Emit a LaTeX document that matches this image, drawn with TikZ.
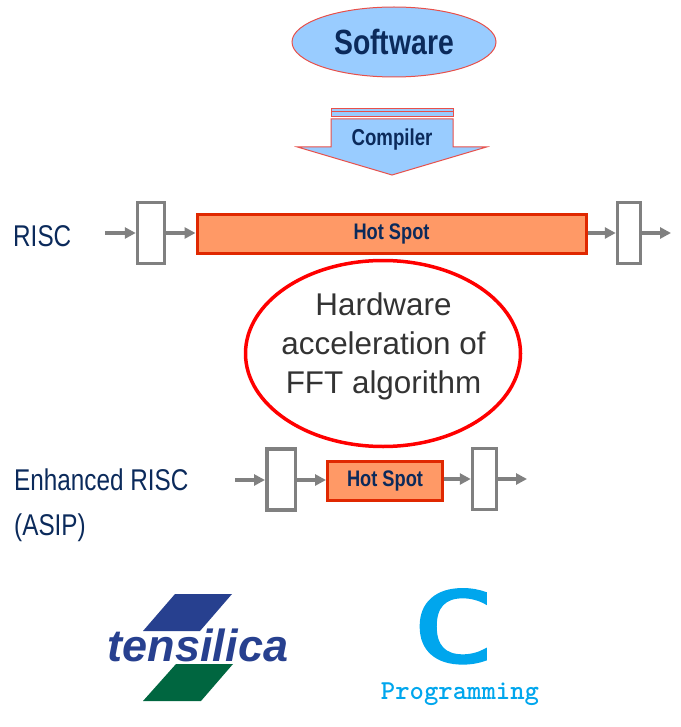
\documentclass[tikz,border=0pt]{standalone}
\usepackage{fontspec}
\usetikzlibrary{shapes.geometric,arrows.meta}
\setmainfont{Liberation Sans}
\newfontfamily\narrowfont[FakeStretch=0.81]{Liberation Sans}
\newfontfamily\bigcfont[FakeStretch=1.45,FakeBold=2.5]{DejaVu Sans Mono}
\definecolor{navy}{HTML}{0B2A5B}
\definecolor{skyfill}{HTML}{99CCFF}
\definecolor{hotfill}{HTML}{FF9966}
\definecolor{hotline}{HTML}{E02800}
\definecolor{softred}{HTML}{E8504A}
\definecolor{logoblue}{HTML}{27408F}
\definecolor{logogreen}{HTML}{006640}
\definecolor{cblue}{HTML}{00A6ED}
\begin{document}
\begin{tikzpicture}[x=1pt,y=-1pt,
  regbox/.style={draw=gray,line width=3.5pt,inner sep=0pt,minimum height=61pt},
  hotbox/.style={draw=hotline,line width=3pt,fill=hotfill,inner sep=0pt,text=navy,font=\narrowfont\bfseries\fontsize{22.5}{26}\selectfont},
  wire/.style={draw=gray,line width=3.5pt,-{Triangle[length=11pt,width=11pt]}},
  sidelabel/.style={text=navy,anchor=west,inner sep=0pt,align=left,font=\narrowfont\fontsize{30}{45}\selectfont}]
\useasboundingbox (0,0) rectangle (680,727);
% compiler arrow
\draw[softred,fill=skyfill,line width=1pt] (331,119)--(453,119)--(453,147)--(486.5,147)--(392,175)--(297.5,147)--(331,147)--cycle;
\draw[softred,fill=skyfill,line width=1pt] (331,112)rectangle(453,117);
\draw[softred,fill=skyfill,line width=1pt] (331,108.5)rectangle(453,112);
\node[text=navy,font=\narrowfont\bfseries\fontsize{23}{28}\selectfont] (compiler) at (392,140) {Compiler};
\node[ellipse,draw=softred,fill=skyfill,line width=1pt,minimum width=204pt,minimum height=70pt,inner sep=0pt,text=navy,font=\narrowfont\bfseries\fontsize{35}{40}\selectfont] (software) at (394,42) {Software};
% risc row
\node[sidelabel] (risc) at (13,236) {RISC};
\coordinate (riscin) at (105,233);
\node[regbox,minimum width=27pt] (riscleft) at (151,233) {};
\node[hotbox,minimum width=389pt,minimum height=38pt] (riscspot) at (391.5,234) {Hot Spot};
\node[regbox,minimum width=23pt] (riscright) at (629,233) {};
\coordinate (riscout) at (671,233);
\draw[wire] (riscin)--(riscleft);
\draw[wire] (riscleft)--(riscspot.west|-riscin);
\draw[wire] (riscspot.east|-riscin)--(riscright);
\draw[wire] (riscright)--(riscout);
% acceleration
\node[ellipse,draw=red,line width=3.5pt,minimum width=275pt,minimum height=186pt,inner sep=0pt] (accel) at (383,353.5) {};
\node[align=center,inner sep=0pt,text={rgb,255:red,51;green,51;blue,51},font=\fontsize{31.4}{39}\selectfont] (acceltext) at (383.5,346) {Hardware\\acceleration of\\FFT algorithm};
% enhanced row
\node[sidelabel] (enhanced) at (14,505) {Enhanced RISC\\(ASIP)};
\coordinate (asipin) at (235,480);
\node[regbox,minimum width=28.5pt] (asipleft) at (281,479.5) {};
\node[hotbox,minimum width=115pt,minimum height=39pt] (asipspot) at (385,481) {Hot Spot};
\node[regbox,minimum width=24pt] (asipright) at (484.5,479) {};
\coordinate (asipout) at (527,479);
\draw[wire] (asipin)--(asipin-|asipleft.west);
\draw[wire] (asipleft.east|-asipin)--(asipspot.west|-asipin);
\draw[wire] (asipspot.east|-asipout)--(asipright.west|-asipout);
\draw[wire] (asipright.east|-asipout)--(asipout);
% logos
\fill[logoblue] (175,594)--(232,594)--(200,631)--(143,631)--cycle;
\fill[logogreen] (176,664)--(233,664)--(201,701)--(143,701)--cycle;
\node[text=logoblue,inner sep=0pt,font=\bfseries\itshape\fontsize{45}{50}\selectfont] (tensilica) at (198,645) {tensilica};
\node[text=cblue,inner sep=0pt,text height=72pt,text depth=0pt,font=\bigcfont\fontsize{98}{100}\selectfont] (clang) at (454,626) {C};
\node[text=cblue,inner sep=0pt,font=\ttfamily\bfseries\fontsize{27.4}{30}\selectfont] (programming) at (460,694) {Programming};
\end{tikzpicture}
\end{document}
